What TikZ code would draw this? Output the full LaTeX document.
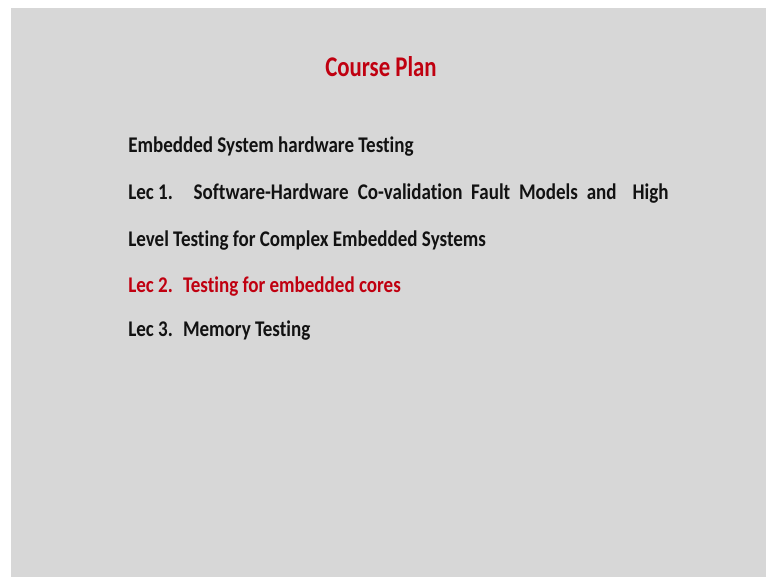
\documentclass[tikz,border=0pt]{standalone}
\usepackage{fontspec}
\setmainfont{Carlito}[FakeStretch=0.85,Ligatures=NoCommon]
\newfontfamily\titlefont{Carlito}[FakeStretch=0.8,Ligatures=NoCommon]
\definecolor{slidebg}{HTML}{D7D7D7}
\definecolor{slidered}{HTML}{C00010}
\definecolor{slideink}{HTML}{121212}
\begin{document}
\begin{tikzpicture}[x=1pt,y=-1pt,
  body/.style={anchor=base west,inner sep=0pt,outer sep=0pt,text=slideink,
    font=\fontsize{22.4}{26}\selectfont\bfseries},
  hot/.style={body,text=slidered},
  title/.style={anchor=base,inner sep=0pt,text=slidered,
    font=\titlefont\fontsize{28.5}{32}\selectfont\bfseries}]
\useasboundingbox (0,0) rectangle (767,577);
\fill[white] (0,0) rectangle (767,577);
\fill[slidebg] (11,8) rectangle (766,577);
\node[title] (t) at (381,76.7) {Course Plan};
\node[body] (l1) at (128.3,152.7) {Embedded System hardware Testing};
\node[body] (l2a) at (128.3,200) {Lec 1.};
\node[body] (l2b) at (193.7,200) {Software-Hardware};
\node[body] (l2c) at (357.9,200) {Co-validation};
\node[body] (l2d) at (471.2,200) {Fault};
\node[body] (l2e) at (519,200) {Models};
\node[body] (l2f) at (586.8,200) {and};
\node[body] (l2g) at (632.7,200) {High};
\node[body] (l3) at (128.3,246.3) {Level Testing for Complex Embedded Systems};
\node[hot] (l4a) at (128.3,292.7) {Lec 2.};
\node[hot] (l4b) at (183,292.7) {Testing for embedded cores};
\node[body] (l5a) at (128.3,336) {Lec 3.};
\node[body] (l5b) at (183,336) {Memory Testing};
\end{tikzpicture}
\end{document}
